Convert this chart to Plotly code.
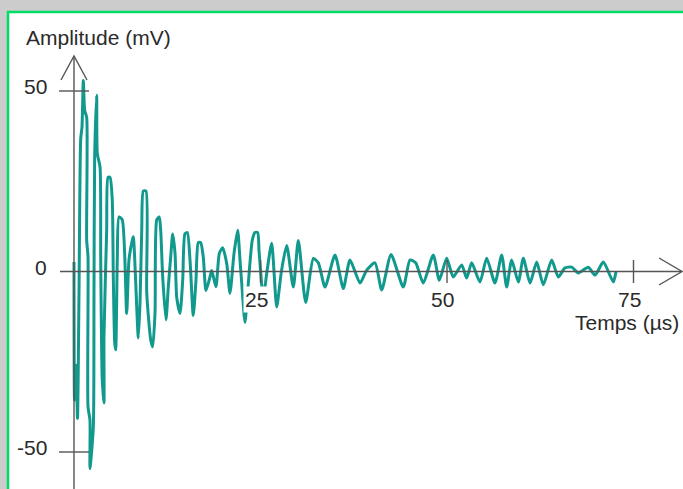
import plotly.graph_objects as go

# ---- data ----
time_us = [0.00, 0.07, 0.27, 0.47, 0.67, 0.90, 1.07, 1.25, 1.43, 1.70, 1.70, 1.88, 1.88, 2.14, 2.14,
           2.59, 2.68, 2.77, 3.04, 3.12, 3.49, 3.58, 3.79, 4.02, 4.02, 4.38, 4.56, 4.83, 5.13, 5.27,
           5.46, 5.59, 5.80, 6.03, 6.47, 7.06, 7.37, 7.82, 7.95, 8.62, 8.85, 9.08, 9.29, 9.65, 9.75,
           10.28, 10.55, 10.86, 11.09, 11.43, 11.62, 11.89, 12.33, 12.64, 12.96, 13.23, 13.54, 13.77,
           14.21, 14.57, 14.88, 15.19, 15.55, 15.99, 16.35, 16.66, 16.98, 17.33, 17.69, 18.23, 18.46,
           19.03, 19.48, 19.93, 20.47, 20.91, 21.45, 21.94, 22.25, 22.48, 22.92, 23.30, 23.90, 24.26,
           24.62, 24.80, 25.16, 25.34, 25.90, 26.50, 27.17, 27.80, 28.51, 29.40, 30.07, 31.06, 32.08,
           32.75, 33.65, 34.99, 36.10, 37.00, 38.34, 39.24, 40.35, 41.25, 42.50, 44.14, 45.04, 45.80,
           46.82, 48.16, 48.97, 49.96, 50.84, 51.97, 52.64, 53.31, 54.42, 55.32, 56.43, 57.33, 58.00,
           58.67, 59.56, 60.23, 61.13, 62.02, 62.91, 64.03, 64.92, 65.82, 66.72, 67.60, 68.94, 69.84,
           70.95, 72.29, 72.65]
amplitude_mv = [2.6, -35.6, -26.0, -40.7, -6.0, 36.8, 39.9, 52.9, 44.6, 42.7, 8.7, 4.0, -37.5, -41.1, -54.6,
                -43.1, -6.0, 31.6, 48.8, 32.8, 28.9, 3.0, -30.2, -36.4, -18.1, 11.4, 26.1, 26.1, 19.7, -1.5,
                -19.8, -21.7, 3.2, 15.1, 14.3, -11.6, 3.2, 8.7, 9.6, -18.4, -8.7, 11.5, 22.3, 22.3, -5.9,
                -18.9, -20.9, -11.5, 14.3, 15.1, 11.5, -1.5, -13.4, -4.3, 4.0, 10.4, 5.1, -7.1,
                -11.6, -2.5, 10.5, 10.8, 3.2, -12.2, -2.5, 8.0, 8.0, 4.0, -5.3, -1.5, 0.3,
                -4.2, 5.0, 6.6, 2.2, -6.0, 5.0, 11.4, 3.2, -3.2, -14.1, -5.0, 8.7, 10.8,
                10.8, 5.8, -3.7, -7.9, 0.5, 7.8, -9.8, 0.0, 7.2, -4.3, 8.6, -8.6, 3.6,
                2.4, -4.3, 4.6, -4.7, 3.2, -3.2, 0.4, 2.4, -5.1, 4.7, -4.3, 3.2, 2.4,
                -3.2, 4.6, -2.4, 3.7, -1.5, 1.8, -1.8, 2.4, -2.9, 3.7, -3.2, 4.6, -4.3,
                3.2, -2.9, 3.7, -3.2, 2.6, -3.7, 3.2, -1.5, 1.0, 1.2, -0.4, 1.2, -1.0,
                2.6, -2.9, -0.1]

x_ticks = [25, 50, 75]
x_tick_labels = ["25", "50", "75"]
y_ticks = [50, 0, -50]
y_tick_labels = ["50", "0", "-50"]
y_title = "Amplitude (mV)"
x_title = "Temps (µs)"

# ---- geometry ----
W, H = 683, 489
PX_PER_US = 7.46
PX_PER_MV = 3.61
X0_PX, Y0_PX = 74, 271.5
xr = [-X0_PX / PX_PER_US, (W - X0_PX) / PX_PER_US]
yr = [(Y0_PX - H) / PX_PER_MV, Y0_PX / PX_PER_MV]

def dx(px):  # pixel -> data x
    return (px - X0_PX) / PX_PER_US

def dy(py):  # pixel -> data y
    return (Y0_PX - py) / PX_PER_MV

AX = "#555555"
FONT = dict(family="Liberation Sans, Arial, sans-serif", size=21, color="#2a2a2a")

fig = go.Figure()
fig.add_trace(go.Scatter(x=time_us, y=amplitude_mv, mode="lines",
                         line=dict(color="#11998e", width=3, shape="spline", smoothing=0.6),
                         hoverinfo="skip"))

shapes = []
# white panel with green frame
shapes.append(dict(type="rect", xref="paper", yref="paper", x0=8 / W, x1=1.02, y0=-0.02, y1=1 - 12 / H,
                   fillcolor="white", line=dict(color="#00dd66", width=2.5), layer="below"))
# axes
shapes.append(dict(type="line", x0=0, x1=0, y0=dy(489), y1=dy(56), line=dict(color=AX, width=1.4), layer="above"))
shapes.append(dict(type="line", x0=dx(60), x1=dx(682), y0=0, y1=0, line=dict(color=AX, width=1.4), layer="above"))
# arrows
shapes.append(dict(type="path", path=f"M {dx(61)},{dy(80)} L 0,{dy(56)} L {dx(87)},{dy(80)}",
                   line=dict(color=AX, width=1.4), layer="above"))
shapes.append(dict(type="path", path=f"M {dx(659)},{dy(258)} L {dx(682)},0 L {dx(659)},{dy(285)}",
                   line=dict(color=AX, width=1.4), layer="above"))
# ticks
for v in y_ticks:
    if v != 0:
        shapes.append(dict(type="line", x0=dx(59), x1=dx(89), y0=v, y1=v, line=dict(color=AX, width=1.4), layer="above"))
for t in x_ticks:
    shapes.append(dict(type="line", x0=t, x1=t, y0=dy(260), y1=dy(283), line=dict(color=AX, width=1.4), layer="above"))

annotations = []
for v, lab in zip(y_ticks, y_tick_labels):
    annotations.append(dict(x=dx(49), y=v + 1.2, text=lab, showarrow=False, xanchor="right",
                            yanchor="middle", font=FONT))
for t, lab in zip(x_ticks, x_tick_labels):
    annotations.append(dict(x=t - 0.6, y=dy(299), text=lab, showarrow=False, xanchor="center",
                            yanchor="middle", font=FONT, bgcolor="white"))
annotations.append(dict(x=dx(24), y=dy(37), text=y_title, showarrow=False, xanchor="left",
                        yanchor="middle", font=FONT))
annotations.append(dict(x=dx(681), y=dy(322), text=x_title, showarrow=False, xanchor="right",
                        yanchor="middle", font=FONT))

fig.update_layout(
    width=W, height=H, margin=dict(l=0, r=0, t=0, b=0),
    paper_bgcolor="#cccccc", plot_bgcolor="rgba(0,0,0,0)",
    showlegend=False,
    xaxis=dict(range=xr, visible=False, fixedrange=True),
    yaxis=dict(range=yr, visible=False, fixedrange=True),
    shapes=shapes, annotations=annotations,
)
fig.write_html("out.html", config={"displayModeBar": False},
               post_script="document.body.style.margin='0';document.body.style.padding='0';document.body.style.overflow='hidden';")
